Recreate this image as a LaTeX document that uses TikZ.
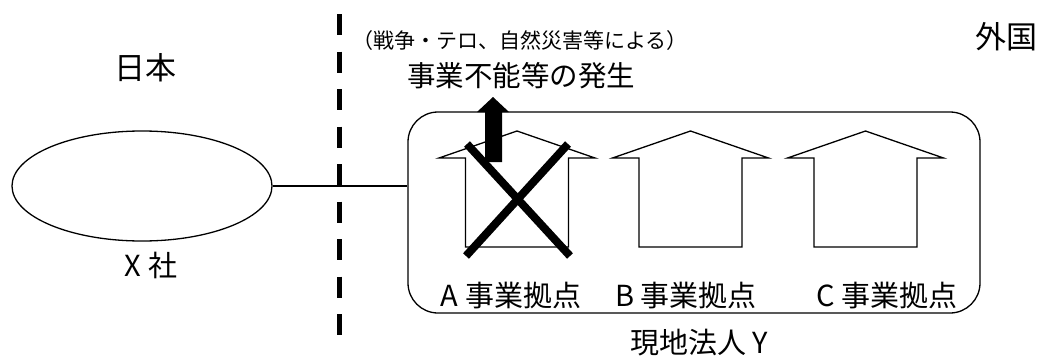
\documentclass[tikz,border=0pt]{standalone}
\usepackage{fontspec}
\setmainfont{Noto Sans CJK JP}
\usetikzlibrary{shapes.geometric}
\begin{document}
\begin{tikzpicture}[x=1pt,y=-1pt,
  thinline/.style={draw=black,line width=1.3pt},
  lbl/.style={inner sep=0pt,font=\fontsize{29}{31}\selectfont},
  house/.pic={\draw[thinline,line join=miter] (-51.5,116) -- (-51.5,27) -- (-78,27) -- (0,0) -- (78,27) -- (51.5,27) -- (51.5,116) -- cycle;}
]
\useasboundingbox (0,0) rectangle (1041,356);
% border
\draw[line width=5pt,dash pattern=on 21pt off 16.5pt] (339,14) coordinate (dtop) -- (339,335) coordinate (dbot);
% company X
\node[draw,thinline,ellipse,minimum width=260pt,minimum height=110pt,inner sep=0pt] (X) at (142,186) {};
\node[lbl,font=\fontsize{31}{33}\selectfont] (jp) at (145,68) {日本};
\node[lbl,font=\fontsize{31}{33}\selectfont] (fr) at (1006,37) {外国};
\node[lbl] (xl) at (151,265) {X 社};
% subsidiary Y box
\node[draw,thinline,rounded corners=30pt,minimum width=572pt,minimum height=201pt,inner sep=0pt] (Y) at (694,212.5) {};
\draw[thinline] (X.east) -- (X.east -| Y.west);
% houses
\pic at (517,131) {house};
\pic at (690.5,131) {house};
\pic at (865.5,131) {house};
\node[lbl] (la) at (511,296) {A 事業拠点};
\node[lbl] (lb) at (686,296) {B 事業拠点};
\node[lbl] (lc) at (887,296) {C 事業拠点};
\node[lbl] (ly) at (699,343) {現地法人 Y};
% cross
\draw[line width=8pt] (467,144) -- (570,256);
\draw[line width=8pt] (568,144) -- (466,256);
% arrow
\fill (485,162) -- (485,112) -- (477,112) -- (493,97) -- (509,112) -- (502,112) -- (502,162) -- cycle;
% event text
\node[lbl,font=\fontsize{21}{23}\selectfont] (cause) at (520,41) {（戦争・テロ、自然災害等による）};
\node[lbl,font=\fontsize{28.5}{30}\selectfont] (ev) at (521,76) {事業不能等の発生};
\end{tikzpicture}
\end{document}
